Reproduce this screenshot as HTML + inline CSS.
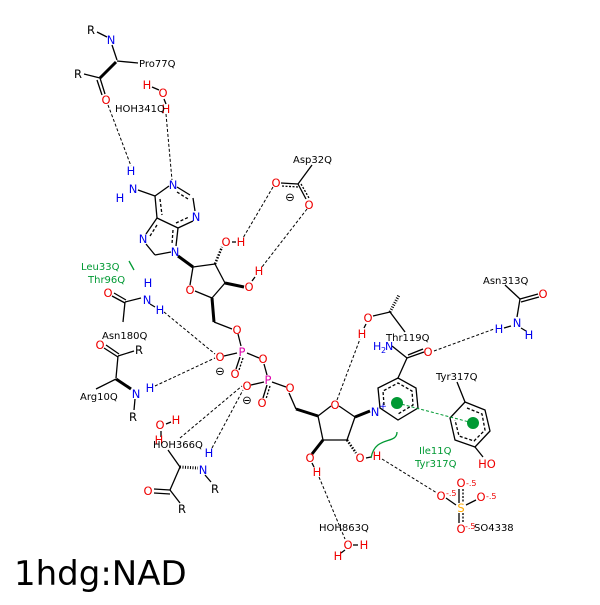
<!DOCTYPE html>
<html><head><style>
body{margin:0;background:#fff}
svg text{font-family:"DejaVu Sans","Liberation Sans",sans-serif;font-size:10px}
.k{fill:#000}.r{fill:#e00}.b{fill:#00e}.g{fill:#093;}
.at text{font-size:11.5px}
</style></head><body>
<svg width="600" height="600" viewBox="0 0 600 600" xmlns="http://www.w3.org/2000/svg">
<g stroke="#000" stroke-width="1.3" fill="none">
<!-- Pro77Q -->
<line x1="97" y1="32" x2="107" y2="37"/><line x1="112" y1="45" x2="117" y2="60"/>
<line x1="117" y1="61" x2="138" y2="63"/><line x1="84" y1="74" x2="100" y2="78"/>
<line x1="100" y1="78" x2="116" y2="62" stroke-width="3"/>
<line x1="100" y1="78" x2="105" y2="94"/><line x1="97" y1="80" x2="102" y2="95"/>
<line x1="152" y1="87" x2="159" y2="90"/><line x1="164" y1="99" x2="166" y2="104"/>
<!-- adenine -->
<line x1="138" y1="190" x2="155" y2="196"/>
<polyline points="155,196 169,186"/><line x1="177" y1="187" x2="190" y2="195"/>
<line x1="193" y1="198" x2="195" y2="211"/><line x1="193" y1="221" x2="178" y2="228"/>
<line x1="178" y1="228" x2="157" y2="218"/><line x1="157" y1="218" x2="155" y2="196"/>
<line x1="160" y1="199" x2="162" y2="215" stroke-dasharray="3,2"/>
<line x1="176" y1="223" x2="189" y2="217" stroke-dasharray="3,2"/>
<line x1="177" y1="192" x2="188" y2="199" stroke-dasharray="3,2"/>
<line x1="157" y1="218" x2="146" y2="234"/><line x1="146" y1="244" x2="155" y2="255"/>
<line x1="155" y1="255" x2="171" y2="252"/><line x1="178" y1="228" x2="176" y2="246"/>
<line x1="157" y1="225" x2="150" y2="236" stroke-dasharray="3,2"/>
<line x1="173" y1="230" x2="172" y2="244" stroke-dasharray="3,2"/>
<!-- ribose1 -->
<line x1="178" y1="256" x2="193" y2="267" stroke-width="3"/>
<line x1="193" y1="267" x2="215" y2="264"/><line x1="215" y1="264" x2="225" y2="283"/>
<line x1="225" y1="283" x2="212" y2="298"/><line x1="212" y1="298" x2="195" y2="291"/>
<line x1="190" y1="285" x2="193" y2="267"/>
<line x1="215" y1="264" x2="222" y2="247" stroke-dasharray="1.5,1.5" stroke-width="2.5"/>
<line x1="225" y1="283" x2="244" y2="287" stroke-width="3"/>
<line x1="212" y1="298" x2="214" y2="322" stroke-width="3"/>
<line x1="214" y1="322" x2="232" y2="329"/>
<line x1="232" y1="242" x2="236" y2="242"/><line x1="252" y1="281" x2="255" y2="277"/>
<line x1="238" y1="334" x2="241" y2="346"/>
<line x1="247" y1="353" x2="259" y2="358"/><line x1="264" y1="364" x2="267" y2="375"/>
<line x1="237" y1="353" x2="224" y2="356"/><line x1="240" y1="357" x2="236" y2="369"/><line x1="243" y1="358" x2="239" y2="370" stroke-dasharray="2,1.5"/>
<line x1="264" y1="382" x2="251" y2="385"/><line x1="267" y1="385" x2="263" y2="398"/><line x1="270" y1="386" x2="266" y2="399" stroke-dasharray="2,1.5"/>
<line x1="272" y1="382" x2="286" y2="387"/>
<line x1="289" y1="393" x2="296" y2="409"/>
<!-- ribose2 -->
<line x1="296" y1="409" x2="318" y2="416" stroke-width="3"/>
<line x1="318" y1="416" x2="331" y2="406"/><line x1="339" y1="406" x2="355" y2="417"/>
<line x1="355" y1="417" x2="347" y2="440"/><line x1="347" y1="440" x2="323" y2="440"/>
<line x1="323" y1="440" x2="318" y2="416"/>
<line x1="355" y1="417" x2="370" y2="411" stroke-width="3"/>
<line x1="323" y1="440" x2="312" y2="454" stroke-width="3"/>
<line x1="347" y1="440" x2="356" y2="453" stroke-dasharray="1.5,1.5" stroke-width="2.5"/>
<line x1="366" y1="458" x2="371" y2="457"/><line x1="312" y1="463" x2="314" y2="467"/>
<!-- nicotinamide -->
<polygon points="380,408 378,388 398,378 416,388 418,408 398,420" />
<polyline points="384,405 383,391 398,383 412,391 413,405 398,414" stroke-dasharray="3,2"/>
<line x1="398" y1="378" x2="407" y2="358"/>
<line x1="407" y1="358" x2="424" y2="352"/><line x1="408" y1="355" x2="423" y2="349"/>
<line x1="407" y1="358" x2="392" y2="346"/>
<!-- Thr119 -->
<line x1="373" y1="316" x2="390" y2="312"/><line x1="390" y1="312" x2="405" y2="332"/>
<line x1="366" y1="324" x2="364" y2="328"/>
<line x1="390" y1="312" x2="399" y2="295" stroke-dasharray="1,1.5" stroke-width="3"/>
<!-- Asn313 -->
<line x1="505" y1="285" x2="520" y2="299"/><line x1="520" y1="299" x2="538" y2="294"/><line x1="521" y1="302" x2="539" y2="297"/>
<line x1="520" y1="299" x2="517" y2="317"/><line x1="504" y1="328" x2="511" y2="326"/><line x1="521" y1="328" x2="526" y2="331"/>
<!-- Tyr317 -->
<line x1="457" y1="382" x2="465" y2="402"/>
<polygon points="465,402 485,410 490,431 475,447 455,440 450,418"/>
<polyline points="467,408 482,414 485,430 474,441 459,436 455,420" stroke-dasharray="3,2"/>
<line x1="475" y1="447" x2="483" y2="457"/>
<!-- Asp32 -->
<line x1="312" y1="165" x2="298" y2="184"/><line x1="298" y1="184" x2="281" y2="183"/><line x1="298" y1="187" x2="282" y2="186" stroke-dasharray="2,1.5"/>
<line x1="298" y1="184" x2="306" y2="199"/><line x1="301" y1="184" x2="309" y2="198" stroke-dasharray="2,1.5"/>
<!-- Asn180 -->
<line x1="112" y1="296" x2="125" y2="303"/><line x1="114" y1="293" x2="126" y2="300"/>
<line x1="125" y1="302" x2="141" y2="298"/><line x1="125" y1="302" x2="123" y2="322"/>
<line x1="150" y1="304" x2="155" y2="307"/>
<!-- Arg10 -->
<line x1="104" y1="348" x2="118" y2="357"/><line x1="106" y1="345" x2="119" y2="354"/>
<line x1="118" y1="356" x2="134" y2="351"/><line x1="118" y1="356" x2="116" y2="378"/>
<line x1="96" y1="389" x2="116" y2="379"/>
<line x1="116" y1="379" x2="131" y2="389" stroke-width="3"/><line x1="135" y1="399" x2="134" y2="410"/>
<!-- Thr/HOH366 residue -->
<line x1="161" y1="431" x2="161" y2="437"/><line x1="166" y1="424" x2="171" y2="422"/>
<line x1="168" y1="450" x2="180" y2="467"/>
<line x1="180" y1="467" x2="198" y2="468" stroke-dasharray="1,1.5" stroke-width="3"/>
<line x1="205" y1="475" x2="211" y2="482"/>
<line x1="180" y1="467" x2="170" y2="490"/><line x1="154" y1="489" x2="170" y2="490"/><line x1="154" y1="493" x2="170" y2="494"/>
<line x1="170" y1="490" x2="180" y2="503"/>
<!-- waters -->
<line x1="353" y1="545" x2="358" y2="545"/><line x1="345" y1="550" x2="341" y2="553"/>
<!-- sulfate -->
<line x1="459" y1="489" x2="459" y2="503"/><line x1="463" y1="489" x2="463" y2="503" stroke-dasharray="2,1.5"/>
<line x1="459" y1="513" x2="459" y2="523"/><line x1="463" y1="513" x2="463" y2="523" stroke-dasharray="2,1.5"/>
<line x1="446" y1="498" x2="456" y2="505"/><line x1="466" y1="505" x2="476" y2="500"/>
</g>
<!-- hbonds -->
<g stroke="#000" stroke-width="1" stroke-dasharray="3,2" fill="none">
<line x1="108" y1="105" x2="131" y2="166"/>
<line x1="166" y1="114" x2="172" y2="180"/>
<line x1="273" y1="187" x2="243" y2="238"/>
<line x1="307" y1="209" x2="262" y2="267"/>
<line x1="164" y1="312" x2="215" y2="354"/>
<line x1="155" y1="386" x2="215" y2="358"/>
<line x1="180" y1="438" x2="242" y2="386"/>
<line x1="212" y1="448" x2="243" y2="390"/>
<line x1="337" y1="400" x2="360" y2="339"/>
<line x1="434" y1="351" x2="494" y2="329"/>
<line x1="382" y1="459" x2="437" y2="493"/>
<line x1="319" y1="477" x2="345" y2="539"/>
</g>
<line x1="397" y1="403" x2="473" y2="423" stroke="#093" stroke-width="1" stroke-dasharray="3,2"/>
<circle cx="397" cy="403" r="6" fill="#093"/><circle cx="473" cy="423" r="6" fill="#093"/>
<line x1="129" y1="261" x2="134" y2="270" stroke="#093" stroke-width="1.3"/>
<path d="M397,432 C397,445 375,435 371,458" stroke="#093" stroke-width="1.3" fill="none"/>
<g text-anchor="middle" dominant-baseline="central" class="at">
<text x="91" y="30" class="k">R</text><text x="111" y="40" class="b">N</text>
<text x="78" y="74" class="k">R</text><text x="106" y="100" class="r">O</text>
<text x="147" y="85" class="r">H</text><text x="163" y="93" class="r">O</text><text x="166" y="109" class="r">H</text>
<text x="131" y="171" class="b">H</text><text x="133" y="189" class="b">N</text><text x="120" y="198" class="b">H</text>
<text x="173" y="185" class="b">N</text><text x="196" y="217" class="b">N</text><text x="143" y="239" class="b">N</text><text x="175" y="252" class="b">N</text>
<text x="190" y="290" class="r">O</text><text x="226" y="242" class="r">O</text><text x="241" y="242" class="r">H</text>
<text x="249" y="287" class="r">O</text><text x="259" y="271" class="r">H</text>
<text x="276" y="183" class="r">O</text><text x="309" y="205" class="r">O</text><text x="290" y="197" class="k">⊖</text>
<text x="237" y="330" class="r">O</text><text x="242" y="352" style="fill:#d0a">P</text><text x="263" y="359" class="r">O</text>
<text x="268" y="380" style="fill:#d0a">P</text><text x="220" y="357" class="r">O</text><text x="235" y="374" class="r">O</text>
<text x="220" y="371" class="k">⊖</text><text x="247" y="386" class="r">O</text><text x="262" y="403" class="r">O</text>
<text x="247" y="400" class="k">⊖</text><text x="290" y="388" class="r">O</text>
<text x="335" y="405" class="r">O</text><text x="310" y="458" class="r">O</text><text x="317" y="472" class="r">H</text>
<text x="360" y="458" class="r">O</text><text x="377" y="456" class="r">H</text>
<text x="375" y="412" class="b">N</text><text x="383" y="407" class="b" style="font-size:9px">+</text>
<text x="368" y="318" class="r">O</text><text x="362" y="334" class="r">H</text>
<text x="428" y="352" class="r">O</text><text x="543" y="294" class="r">O</text>
<text x="517" y="323" class="b">N</text><text x="499" y="329" class="b">H</text><text x="529" y="335" class="b">H</text>
<text x="487" y="464" class="r">HO</text>
<text x="461" y="508" style="fill:#fa0">S</text><text x="461" y="483" class="r">O</text><text x="441" y="496" class="r">O</text>
<text x="481" y="497" class="r">O</text><text x="461" y="529" class="r">O</text>
<text x="348" y="545" class="r">O</text><text x="364" y="545" class="r">H</text><text x="338" y="556" class="r">H</text>
<text x="108" y="293" class="r">O</text><text x="147" y="300" class="b">N</text><text x="148" y="283" class="b">H</text><text x="160" y="310" class="b">H</text>
<text x="100" y="345" class="r">O</text><text x="139" y="350" class="k">R</text><text x="136" y="394" class="b">N</text><text x="150" y="388" class="b">H</text><text x="133" y="417" class="k">R</text>
<text x="160" y="425" class="r">O</text><text x="176" y="420" class="r">H</text><text x="159" y="440" class="r">H</text>
<text x="203" y="470" class="b">N</text><text x="209" y="453" class="b">H</text><text x="215" y="489" class="k">R</text>
<text x="148" y="491" class="r">O</text><text x="182" y="509" class="k">R</text>
</g>
<g style="font-size:9px">
<text x="139" y="67">Pro77Q</text><text x="115" y="112">HOH341Q</text><text x="293" y="163">Asp32Q</text>
<text x="81" y="270" class="g">Leu33Q</text><text x="88" y="283" class="g">Thr96Q</text>
<text x="102" y="339">Asn180Q</text><text x="80" y="400">Arg10Q</text>
<text x="153" y="448">HOH366Q</text>
<text x="386" y="341">Thr119Q</text><text x="373" y="350" class="b" style="font-size:11px">H</text><text x="381" y="353" class="b" style="font-size:8px">2</text><text x="385" y="350" class="b" style="font-size:11px">N</text>
<text x="483" y="284">Asn313Q</text><text x="436" y="380">Tyr317Q</text>
<text x="419" y="454" class="g">Ile11Q</text><text x="415" y="467" class="g">Tyr317Q</text>
<text x="319" y="531">HOH863Q</text><text x="474" y="531">SO4338</text>
<text x="466" y="486" class="r" style="font-size:8px">-.5</text><text x="446" y="496" class="r" style="font-size:8px">-.5</text>
<text x="486" y="499" class="r" style="font-size:8px">-.5</text><text x="465" y="529" class="r" style="font-size:8px">-.5</text>
</g>
<text x="14" y="585" style="font-size:34px;font-family:'DejaVu Sans','Liberation Sans',sans-serif">1hdg:NAD</text>
</svg>
</body></html>
